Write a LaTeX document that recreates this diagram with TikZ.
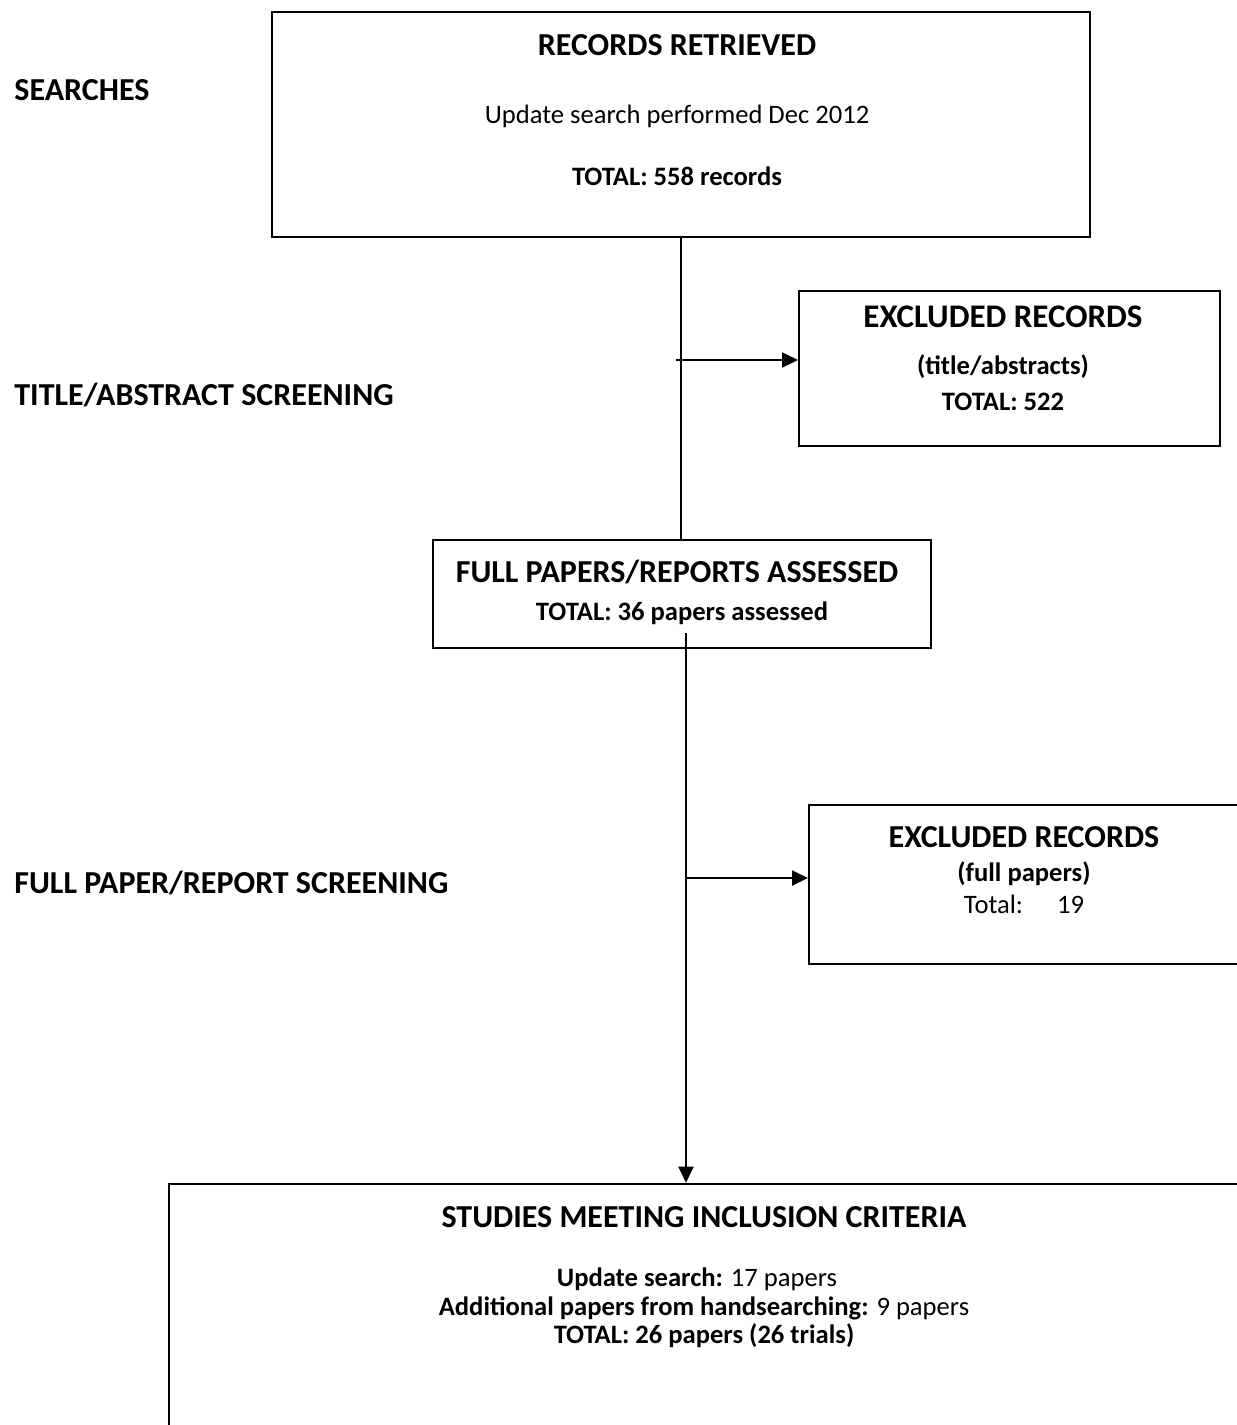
\documentclass[tikz,border=0pt]{standalone}
\usepackage{fontspec}
\setmainfont{Carlito}
\usetikzlibrary{arrows.meta,fit}
\begin{document}
\begin{tikzpicture}[x=0.5pt,y=-0.5pt,
  box/.style={draw, line width=1pt, inner sep=0pt, rectangle},
  thick box/.style={draw, line width=1.3pt, inner sep=0pt, rectangle},
  conn/.style={line width=1pt},
  arr/.style={line width=1pt, -{Triangle[length=8pt,width=7.5pt]}},
  tt/.style={font=\fontsize{16}{19}\selectfont\bfseries, inner sep=0pt, anchor=base},
  st/.style={font=\fontsize{13.3}{16}\selectfont, inner sep=0pt, anchor=base},
  sb/.style={font=\fontsize{13.3}{16}\selectfont\bfseries, inner sep=0pt, anchor=base},
  lab/.style={font=\fontsize{16}{19}\selectfont\bfseries, inner sep=0pt, anchor=base west}]
\clip (0,0) rectangle (1237,1425);
\fill[white] (0,0) rectangle (1237,1425);

% stage labels
\node[lab] (l1) at (14,100) {SEARCHES};
\node[lab] (l2) at (14,405) {TITLE/ABSTRACT SCREENING};
\node[lab] (l3) at (14,893) {FULL PAPER/REPORT SCREENING};

% boxes
\node[box, fit={(272,12)(1090,237)}] (top) {};
\node[box, fit={(799,291)(1220,446)}] (ex1) {};
\node[box, fit={(433,540)(931,648)}] (full) {};
\node[box, fit={(809,805)(1270,964)}] (ex2) {};
\node[thick box, fit={(169,1184)(1270,1460)}] (incl) {};

% texts in top box
\node[tt] (t1) at (677,55) {RECORDS RETRIEVED};
\node[st] (t2) at (677,123) {Update search performed Dec 2012};
\node[sb] (t3) at (677,185) {TOTAL: 558 records};

% excluded 1
\node[tt, font=\fontsize{16.5}{19}\selectfont\bfseries] (e1a) at (1003,327) {EXCLUDED RECORDS};
\node[sb] (e1b) at (1003,374) {(title/abstracts)};
\node[sb] (e1c) at (1003,410) {TOTAL: 522};

% full papers
\node[tt] (f1) at (677,582) {FULL PAPERS/REPORTS ASSESSED};
\node[sb] (f2) at (682,620) {TOTAL: 36 papers assessed};

% excluded 2
\node[tt] (e2a) at (1024,847) {EXCLUDED RECORDS};
\node[sb] (e2b) at (1024,881) {(full papers)};
\node[st] (e2c) at (1024,913) {Total:\hspace{17pt}19};

% inclusion
\node[tt] (i1) at (704,1227) {STUDIES MEETING INCLUSION CRITERIA};
\node[st] (i2) at (697,1286) {\textbf{Update search:} 17 papers};
\node[st] (i3) at (704,1315) {\textbf{Additional papers from handsearching:} 9 papers};
\node[sb] (i4) at (704,1343) {TOTAL: 26 papers (26 trials)};

% connectors
\draw[conn] (top.south) -- (top.south |- full.north);
\coordinate (b1) at (676,360);
\draw[arr] (b1) -- (b1 -| ex1.west);
\coordinate (c0) at (686,633);
\draw[arr] (c0) -- (c0 |- incl.north);
\coordinate (b2) at (686,878);
\draw[arr] (b2) -- (b2 -| ex2.west);
\end{tikzpicture}
\end{document}
